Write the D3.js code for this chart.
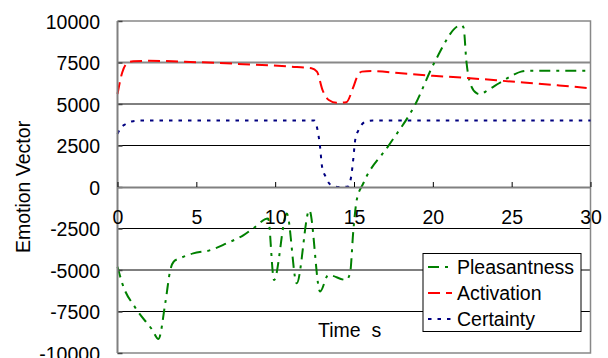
<!DOCTYPE html>
<html>
<head>
<meta charset="utf-8">
<script src="https://cdn.jsdelivr.net/npm/d3@7"></script>
<style>
  html, body { margin: 0; padding: 0; background: #fff; }
  svg { display: block; font-family: "Liberation Sans", Arial, sans-serif; }
</style>
</head>
<body>
<svg id="chart" width="608" height="358"></svg>
<script>
// Emotion vector components over time (seconds)
const pleasantTime  = [0, 0.3, 1.15, 2.2, 2.6, 3.04, 3.35, 3.56, 4.0, 4.8, 5.9, 6.9, 8.0, 8.6, 9.55, 9.93, 10.74, 11.37, 12.17, 12.85, 13.37, 14.5, 14.75, 14.96, 15.17, 15.6, 17.2, 18.9, 20.1, 21.8, 21.95, 22.13, 22.34, 22.77, 22.97, 23.5, 24.2, 25.1, 25.6, 26.1, 30];
const pleasantValue = [-4800, -5800, -7300, -8600, -9150, -6930, -5000, -4500, -4280, -4000, -3800, -3400, -2900, -2500, -1900, -5600, -1600, -5800, -1400, -6300, -5300, -5600, -5200, -2600, -800, 240, 2500, 5000, 7500, 9750, 9600, 7550, 6350, 5650, 5590, 5840, 6250, 6750, 6950, 7000, 7000];

const activationTime  = [0, 0.3, 0.6, 1, 2, 5, 8, 11, 12.3, 12.65, 13.0, 13.4, 13.9, 14.5, 14.95, 15.2, 15.5, 16.1, 18, 20, 22, 25, 28, 30];
const activationValue = [5600, 6900, 7450, 7580, 7600, 7520, 7400, 7250, 7150, 6950, 5850, 5240, 5070, 5100, 6000, 6650, 6950, 6990, 6850, 6700, 6580, 6350, 6120, 5950];

const certaintyTime  = [0, 0.2, 0.5, 0.9, 1.5, 12.5, 12.65, 12.85, 12.97, 13.2, 13.5, 14.0, 14.6, 14.82, 14.95, 15.08, 15.3, 15.7, 16.2, 30];
const certaintyValue = [3200, 3550, 3780, 3950, 4000, 4000, 3600, 2400, 1250, 620, 150, 0, 20, 620, 1650, 2850, 3450, 3920, 4000, 4000];

const xTicks = [0, 5, 10, 15, 20, 25, 30];
const yTicks = [-10000, -7500, -5000, -2500, 0, 2500, 5000, 7500, 10000];

const seriesNames = ["Pleasantness", "Activation", "Certainty"];

const svg = d3.select("#chart");
const FONT = 19.5;

const x = d3.scaleLinear().domain([0, 30]).range([117.5, 590.5]);
const y = d3.scaleLinear().domain([-10000, 10000]).range([353, 21]);

const series = [
  { name: seriesNames[0], t: pleasantTime,   v: pleasantValue,   color: "#008000", dash: "11,6,3,6" },
  { name: seriesNames[1], t: activationTime, v: activationValue, color: "#ff0000", dash: "12,6" },
  { name: seriesNames[2], t: certaintyTime,  v: certaintyValue,  color: "#000080", dash: "3.5,6" }
];

// horizontal gridlines
svg.append("g").selectAll("line")
  .data(yTicks.filter(d => d !== 0 && d !== 10000 && d !== -10000))
  .join("line")
  .attr("x1", x(0)).attr("x2", x(30))
  .attr("y1", d => y(d)).attr("y2", d => y(d))
  .attr("stroke", d => d === 7500 ? "#888" : "#000")
  .attr("stroke-width", d => d === 7500 ? 2 : 1);

// plot frame (top, right, bottom)
svg.append("path")
  .attr("d", `M${x(0)},${y(10000)}H${x(30)}V${y(-10000)}H${x(0)}`)
  .attr("fill", "none").attr("stroke", "#888").attr("stroke-width", 1.5);

// series lines
const line = d3.line().curve(d3.curveMonotoneX);
svg.append("g").selectAll("path")
  .data(series)
  .join("path")
  .attr("d", s => line(s.t.map((t, i) => [x(t), y(s.v[i])])))
  .attr("fill", "none")
  .attr("stroke", s => s.color)
  .attr("stroke-width", 2)
  .attr("stroke-dasharray", s => s.dash);

// y axis
const yAxis = svg.append("g")
  .attr("transform", `translate(${x(0)},0)`)
  .call(d3.axisLeft(y).tickValues(yTicks).tickFormat(d => String(d)).tickSizeInner(-5).tickSizeOuter(0).tickPadding(17.5));
yAxis.select(".domain").remove();
yAxis.selectAll(".tick line").attr("stroke", "#444").attr("stroke-width", 1.5);
yAxis.selectAll("text")
  .attr("font-size", FONT).attr("fill", "#000")
  .attr("font-family", "Liberation Sans, Arial, sans-serif")
  .attr("dy", "0.38em");
svg.append("line")
  .attr("x1", x(0)).attr("x2", x(0))
  .attr("y1", y(10000)).attr("y2", y(-10000))
  .attr("stroke", "#808080").attr("stroke-width", 2);

// x axis along zero
const xAxis = svg.append("g")
  .attr("transform", `translate(0,${y(0)})`)
  .call(d3.axisBottom(x).tickValues(xTicks).tickFormat(d => String(d)).tickSizeInner(-5).tickSizeOuter(0).tickPadding(0));
xAxis.select(".domain").attr("stroke", "#808080").attr("stroke-width", 2);
xAxis.selectAll(".tick line").attr("stroke", "#000").attr("stroke-width", 1);
xAxis.selectAll("text")
  .attr("font-size", FONT).attr("fill", "#000")
  .attr("font-family", "Liberation Sans, Arial, sans-serif")
  .attr("y", 37).attr("dy", 0);

// axis titles
svg.append("text")
  .attr("transform", `translate(30,${y(0)}) rotate(-90)`)
  .attr("text-anchor", "middle")
  .attr("font-size", FONT)
  .text("Emotion Vector");

svg.append("text")
  .attr("x", 318).attr("y", 337)
  .attr("font-size", FONT)
  .attr("xml:space", "preserve")
  .style("white-space", "pre")
  .text("Time  s");

// legend
const legend = svg.append("g");
legend.append("rect")
  .attr("x", 423).attr("y", 253.5).attr("width", 158).attr("height", 78)
  .attr("fill", "#fff").attr("stroke", "#000").attr("stroke-width", 1);
const rowY = [267, 293, 319];
const items = legend.selectAll("g.item").data(series).join("g").attr("class", "item");
items.append("line")
  .attr("x1", 428).attr("x2", 452)
  .attr("y1", (d, i) => rowY[i]).attr("y2", (d, i) => rowY[i])
  .attr("stroke", d => d.color).attr("stroke-width", 2)
  .attr("stroke-dasharray", d => d.dash);
items.append("text")
  .attr("x", 457).attr("y", (d, i) => rowY[i] + 7)
  .attr("font-size", FONT)
  .text(d => d.name);
</script>
</body>
</html>
